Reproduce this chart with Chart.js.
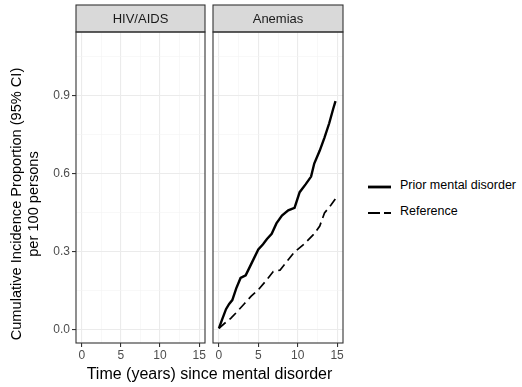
<!DOCTYPE html>
<html>
<head>
<meta charset="utf-8">
<script src="https://cdn.jsdelivr.net/npm/chart.js@4"></script>
<style>
  body { margin: 0; background: #fff; font-family: "Liberation Sans", Arial, sans-serif; }
  #wrap { position: relative; width: 522px; height: 387px; }
  canvas { position: absolute; top: 0; }
  #leftCv { left: 0; }
  #rightCv { left: 208px; }
  .xt { position: absolute; left: 76px; width: 267px; top: 365px; text-align: center; font-size: 16px; color: #000; white-space: nowrap; }
  .yt { position: absolute; left: 0; top: 0; width: 0; height: 0; }
  .yt div { position: absolute; width: 360px; text-align: center; font-size: 14.6px; line-height: 17px; color: #000;
            transform: rotate(-90deg); transform-origin: 180px 20px; white-space: nowrap; }
  .lg { position: absolute; left: 368px; font-size: 12.5px; color: #000; }
  .lg svg { position: absolute; left: 0; top: 2px; }
  .lg span.tx { position: absolute; left: 32px; top: 0; white-space: nowrap; }
</style>
</head>
<body>
<div id="wrap">
  <canvas id="leftCv" width="210" height="387"></canvas>
  <canvas id="rightCv" width="140" height="387"></canvas>
  <div class="xt">Time (years) since mental disorder</div>
  <div class="yt"><div style="left:-152px;top:184px;">Cumulative Incidence Proportion (95% CI)<br>per 100 persons</div></div>
  <div class="lg" style="top:178px;"><svg width="24" height="14"><line x1="0" y1="7" x2="23" y2="7" stroke="#000" stroke-width="2.8"/></svg><span class="tx">Prior mental disorder</span></div>
  <div class="lg" style="top:204px;"><svg width="24" height="14"><line x1="0" y1="7" x2="23" y2="7" stroke="#000" stroke-width="2.2" stroke-dasharray="12 4"/></svg><span class="tx">Reference</span></div>
</div>
<script>
const facets = ['HIV/AIDS', 'Anemias'];
const seriesNames = ['Prior mental disorder', 'Reference'];

// Anemias panel
const timePrior = [0, 0.4, 0.9, 1.3, 1.7, 2.2, 2.75, 3.4, 4.2, 5.0, 5.6, 6.1, 6.7, 7.3, 8.0, 8.8, 9.6, 10.25, 11.0, 11.7, 12.1, 12.8, 13.4, 14.0, 14.5, 14.8];
const cipPrior = [0.006, 0.04, 0.08, 0.10, 0.115, 0.16, 0.20, 0.21, 0.26, 0.31, 0.33, 0.35, 0.37, 0.41, 0.44, 0.46, 0.47, 0.53, 0.56, 0.59, 0.64, 0.69, 0.74, 0.795, 0.85, 0.88];
const timeRef = [0, 0.7, 1.5, 2.3, 3.2, 4.1, 5.0, 6.0, 6.9, 7.75, 8.8, 9.6, 10.8, 12.1, 12.8, 13.4, 14.2, 14.8];
const cipRef = [0.006, 0.025, 0.045, 0.07, 0.10, 0.13, 0.155, 0.19, 0.225, 0.23, 0.27, 0.30, 0.33, 0.37, 0.40, 0.45, 0.48, 0.505];

const xTicks = [0, 5, 10, 15];
const yTicks = [0.0, 0.3, 0.6, 0.9];
const xMinor = [2.5, 7.5, 12.5];
const yMinor = [0.15, 0.45, 0.75, 1.05];

const isMajor = (v, list) => list.some(t => Math.abs(t - v) < 1e-6);

const panelPlugin = {
    id: 'panel',
    afterDraw(chart, args, opts) {
        const ctx = chart.ctx, a = chart.chartArea;
        ctx.save();
        // strip
        ctx.fillStyle = '#d9d9d9';
        ctx.fillRect(a.left, 5, a.right - a.left, a.top - 5);
        ctx.strokeStyle = '#333333';
        ctx.lineWidth = 1.1;
        ctx.strokeRect(a.left, 5, a.right - a.left, a.top - 5);
        ctx.fillStyle = '#1a1a1a';
        ctx.font = '13px "Liberation Sans", Arial, sans-serif';
        ctx.textAlign = 'center';
        ctx.textBaseline = 'middle';
        ctx.fillText(opts.label, (a.left + a.right) / 2, (5 + a.top) / 2 + 1);
        // panel border
        ctx.strokeRect(a.left, a.top, a.right - a.left, a.bottom - a.top);
        ctx.restore();
    }
};

function xScale() {
    return {
        type: 'linear',
        min: -0.75,
        max: 15.75,
        afterBuildTicks: s => { s.ticks = xTicks.concat(xMinor).sort((p, q) => p - q).map(v => ({ value: v })); },
        afterFit: s => { s.height = 44; },
        ticks: {
            color: '#4d4d4d',
            font: { size: 12, family: '"Liberation Sans", Arial' },
            padding: 1,
            maxRotation: 0,
            autoSkip: false,
            callback: v => isMajor(v, xTicks) ? String(v) : ''
        },
        grid: {
            color: c => isMajor(c.tick.value, xTicks) ? '#ebebeb' : '#f4f4f4',
            lineWidth: c => isMajor(c.tick.value, xTicks) ? 1.1 : 0.6,
            tickColor: c => isMajor(c.tick.value, xTicks) ? '#333333' : 'rgba(0,0,0,0)',
            tickLength: 4
        },
        border: { display: false }
    };
}

function yScale(withLabels) {
    return {
        type: 'linear',
        min: -0.05,
        max: 1.146,
        afterBuildTicks: s => { s.ticks = yTicks.concat(yMinor).sort((p, q) => p - q).map(v => ({ value: v })); },
        afterFit: s => { s.width = withLabels ? 76 : 0; },
        ticks: {
            display: withLabels,
            color: '#4d4d4d',
            font: { size: 12, family: '"Liberation Sans", Arial' },
            padding: 2,
            callback: v => isMajor(v, yTicks) ? v.toFixed(1) : ''
        },
        grid: {
            color: c => isMajor(c.tick.value, yTicks) ? '#ebebeb' : '#f4f4f4',
            lineWidth: c => isMajor(c.tick.value, yTicks) ? 1.1 : 0.6,
            tickColor: c => (withLabels && isMajor(c.tick.value, yTicks)) ? '#333333' : 'rgba(0,0,0,0)',
            tickLength: 4,
            drawTicks: withLabels
        },
        border: { display: false }
    };
}

const toXY = (xs, ys) => xs.map((x, i) => ({ x: x, y: ys[i] }));

const commonOpts = (label, withLabels, pad) => ({
    responsive: false,
    animation: false,
    layout: { padding: pad },
    scales: { x: xScale(), y: yScale(withLabels) },
    plugins: {
        legend: { display: false },
        tooltip: { enabled: false },
        panel: { label: label }
    },
    elements: { point: { radius: 0 }, line: { tension: 0 } }
});

new Chart(document.getElementById('leftCv'), {
    type: 'line',
    data: { datasets: [] },
    options: commonOpts(facets[0], true, { top: 32, right: 5, left: 0, bottom: 0 }),
    plugins: [panelPlugin]
});

new Chart(document.getElementById('rightCv'), {
    type: 'line',
    data: {
        datasets: [
            { label: seriesNames[0], data: toXY(timePrior, cipPrior), borderColor: '#000', borderWidth: 2.4 },
            { label: seriesNames[1], data: toXY(timeRef, cipRef), borderColor: '#000', borderWidth: 1.7, borderDash: [9, 5] }
        ]
    },
    options: commonOpts(facets[1], false, { top: 32, right: 5, left: 5, bottom: 0 }),
    plugins: [panelPlugin]
});
</script>
</body>
</html>
